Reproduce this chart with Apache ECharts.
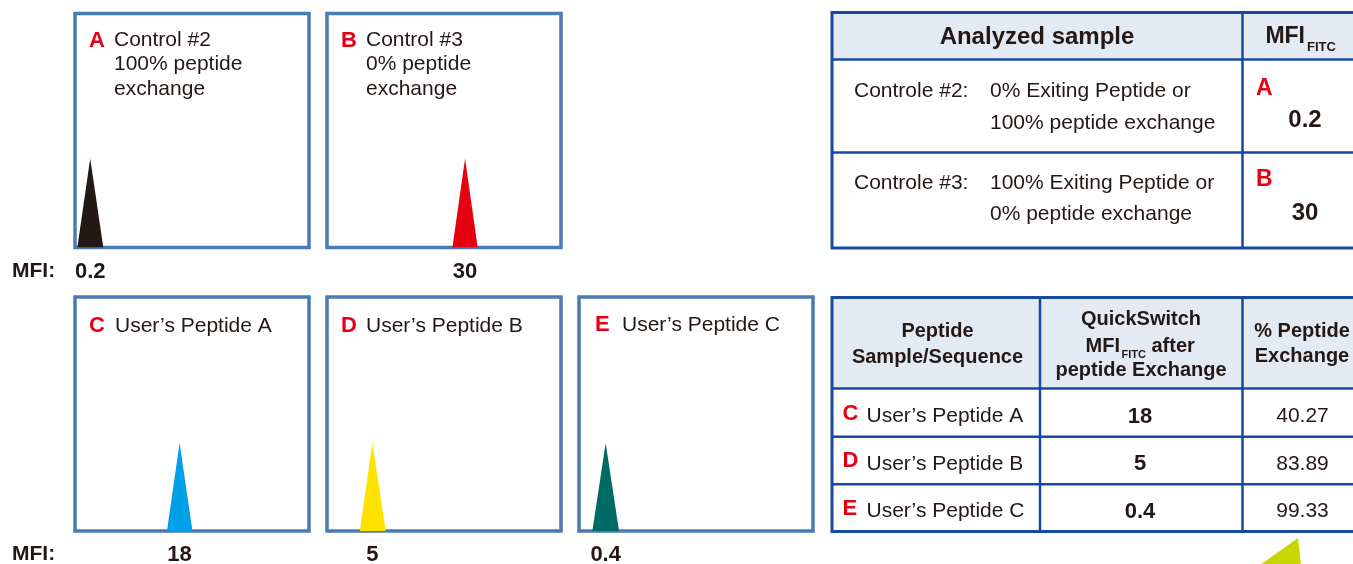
<!DOCTYPE html>
<html>
<head>
<meta charset="utf-8">
<title>QuickSwitch peptide exchange</title>
<script src="https://cdn.jsdelivr.net/npm/echarts@6.0.0/dist/echarts.min.js"></script>
<style>
html, body { margin: 0; padding: 0; background: #fff; }
#main { width: 1353px; height: 564px; }
</style>
</head>
<body>
<div id="main"></div>
<script>
// histogram panels A-E
var panelKeys = ['A', 'B', 'C', 'D', 'E'];
var panelLines = [
	['Control #2', '100% peptide', 'exchange'],
	['Control #3', '0% peptide', 'exchange'],
	['User\u2019s Peptide A'],
	['User\u2019s Peptide B'],
	['User\u2019s Peptide C']
];
var mfiLabels = ['0.2', '30', '18', '5', '0.4'];
// peak shape, in % of panel width / height
var peakLeft = [1.0, 53.6, 39.3, 14.0, 5.7];
var peakCenter = [6.5, 59.0, 44.7, 19.4, 11.4];
var peakRight = [12.1, 64.4, 50.2, 25.1, 17.1];
var peakHeight = [38, 38, 37.6, 37.6, 37.6];

// tables
var controlHeader = ['Analyzed sample', 'MFI', 'FITC'];
var controlRows = [
	['Controle #2:', '0% Exiting Peptide or', '100% peptide exchange', 'A', '0.2'],
	['Controle #3:', '100% Exiting Peptide or', '0% peptide exchange', 'B', '30']
];
var peptideHeader = [
	['Peptide', 'Sample/Sequence'],
	['QuickSwitch', 'MFI', 'FITC', 'after', 'peptide Exchange'],
	['% Peptide', 'Exchange']
];
var peptideRows = [
	['C', 'User\u2019s Peptide A', '18', '40.27'],
	['D', 'User\u2019s Peptide B', '5', '83.89'],
	['E', 'User\u2019s Peptide C', '0.4', '99.33']
];

// layout / style
var FONT = '"Liberation Sans", Arial, Helvetica, sans-serif';
var INK = '#231815';
var RED = '#e60012';
var PANEL_BORDER = '#4a7bb5';
var TABLE_LINE = '#17499d';
var HEAD_BG = '#e3eaf4';
var TEXT_DY = 2; // canvas 'middle' sits a bit high
var peakColors = ['#231815', '#e60012', '#00a0e9', '#ffe100', '#006b64'];
var gridLeft = [75, 327, 75, 327, 579];
var gridTop = [13.5, 13.5, 297, 297, 297];
var gridSize = 234;
var keyDx = [14, 14, 14, 14, 16];
var textDx = [39, 39, 40, 39, 43];
var textY = [38.5, 38.5, 324, 324, 323];

function txt(x, y, s, size, opt) {
	opt = opt || {};
	return {
		type: 'text',
		x: x,
		y: y + TEXT_DY,
		silent: true,
		style: {
			text: s,
			font: (opt.bold ? 'bold ' : '') + size + 'px ' + FONT,
			fill: opt.color || INK,
			textAlign: opt.align || 'left',
			textVerticalAlign: 'middle'
		}
	};
}

function rect(x, y, w, h, style) {
	return { type: 'rect', silent: true, shape: { x: x, y: y, width: w, height: h }, style: style };
}

function line(x1, y1, x2, y2, w) {
	return {
		type: 'line', silent: true,
		shape: { x1: x1, y1: y1, x2: x2, y2: y2 },
		style: { stroke: TABLE_LINE, lineWidth: w }
	};
}

var grids = [], xAxes = [], yAxes = [], series = [], graphics = [];

panelKeys.forEach(function(k, i) {
	grids.push({
		show: true,
		left: gridLeft[i],
		top: gridTop[i],
		width: gridSize,
		height: gridSize,
		outerBoundsMode: 'none',
		borderColor: PANEL_BORDER,
		borderWidth: 3.5,
		backgroundColor: 'transparent'
	});
	xAxes.push({
		gridIndex: i,
		type: 'value',
		min: 0,
		max: 100,
		axisLine: { show: false },
		axisTick: { show: false },
		splitLine: { show: false },
		axisLabel: {
			customValues: [peakCenter[i]],
			formatter: function() { return mfiLabels[i]; },
			margin: 13,
			fontSize: 22,
			fontWeight: 'bold',
			fontFamily: FONT,
			color: INK
		}
	});
	yAxes.push({ gridIndex: i, type: 'value', min: 0, max: 100, show: false });
	series.push({
		type: 'line',
		xAxisIndex: i,
		yAxisIndex: i,
		symbol: 'none',
		smooth: false,
		z: 3,
		lineStyle: { width: 0 },
		itemStyle: { color: peakColors[i] },
		areaStyle: { color: peakColors[i], opacity: 1 },
		data: [[peakLeft[i], 0], [peakCenter[i], peakHeight[i]], [peakRight[i], 0]]
	});

	// panel caption
	graphics.push(txt(gridLeft[i] + keyDx[i], textY[i], k, 22, { bold: true, color: RED }));
	panelLines[i].forEach(function(s, j) {
		graphics.push(txt(gridLeft[i] + textDx[i], textY[i] + j * 24.2, s, 21));
	});
});

// MFI: row labels
graphics.push(txt(12, 269.5, 'MFI:', 21, { bold: true }));
graphics.push(txt(12, 552, 'MFI:', 21, { bold: true }));

// table 1: controls
var t1 = { x: 832, y: 12.5, r: 1362, b: 248, head: 59.5, mid: 152.5, col: 1242.5 };
graphics.push(rect(t1.x, t1.y, t1.r - t1.x, t1.head - t1.y, { fill: HEAD_BG }));
graphics.push(line(t1.x, t1.head, t1.r, t1.head, 2.5));
graphics.push(line(t1.x, t1.mid, t1.r, t1.mid, 2.5));
graphics.push(line(t1.col, t1.y, t1.col, t1.b, 2.5));
graphics.push(rect(t1.x, t1.y, t1.r - t1.x, t1.b - t1.y, { fill: 'none', stroke: TABLE_LINE, lineWidth: 3 }));
graphics.push(txt(1037, 35, controlHeader[0], 24, { bold: true, align: 'center' }));
graphics.push(txt(1305, 35, controlHeader[1], 23, { bold: true, align: 'right' }));
graphics.push(txt(1307, 45, controlHeader[2], 13, { bold: true }));
var rowY1 = [[89, 121], [181, 212.5]];
var keyY1 = [[87, 118.3], [177.5, 211.7]];
controlRows.forEach(function(r, i) {
	graphics.push(txt(854, rowY1[i][0], r[0], 21));
	graphics.push(txt(990, rowY1[i][0], r[1], 21));
	graphics.push(txt(990, rowY1[i][1], r[2], 21));
	graphics.push(txt(1256, keyY1[i][0], r[3], 23, { bold: true, color: RED }));
	graphics.push(txt(1305, keyY1[i][1], r[4], 24, { bold: true, align: 'center' }));
});

// table 2: user peptides
var t2 = { x: 832, y: 297.5, r: 1362, b: 531.5, head: 388.5, c1: 1040, c2: 1242.5 };
var rowLines = [436.7, 484.3];
graphics.push(rect(t2.x, t2.y, t2.r - t2.x, t2.head - t2.y, { fill: HEAD_BG }));
graphics.push(line(t2.x, t2.head, t2.r, t2.head, 2.5));
rowLines.forEach(function(y) { graphics.push(line(t2.x, y, t2.r, y, 2.5)); });
graphics.push(line(t2.c1, t2.y, t2.c1, t2.b, 2.5));
graphics.push(line(t2.c2, t2.y, t2.c2, t2.b, 2.5));
graphics.push(rect(t2.x, t2.y, t2.r - t2.x, t2.b - t2.y, { fill: 'none', stroke: TABLE_LINE, lineWidth: 3 }));

graphics.push(txt(937.5, 329.5, peptideHeader[0][0], 20, { bold: true, align: 'center' }));
graphics.push(txt(937.5, 355.5, peptideHeader[0][1], 20, { bold: true, align: 'center' }));
graphics.push(txt(1141, 317.5, peptideHeader[1][0], 20, { bold: true, align: 'center' }));
graphics.push(txt(1120, 344, peptideHeader[1][1], 20, { bold: true, align: 'right' }));
graphics.push(txt(1121.5, 353, peptideHeader[1][2], 11, { bold: true }));
graphics.push(txt(1151.5, 344, peptideHeader[1][3], 20, { bold: true }));
graphics.push(txt(1141, 368.5, peptideHeader[1][4], 20, { bold: true, align: 'center' }));
graphics.push(txt(1302, 329, peptideHeader[2][0], 20, { bold: true, align: 'center' }));
graphics.push(txt(1302, 354, peptideHeader[2][1], 20, { bold: true, align: 'center' }));

var rowY2 = [414.5, 462, 509.7];
peptideRows.forEach(function(r, i) {
	graphics.push(txt(842.5, rowY2[i] - 3, r[0], 22, { bold: true, color: RED }));
	graphics.push(txt(866.5, rowY2[i], r[1], 21));
	graphics.push(txt(1140, rowY2[i], r[2], 22, { bold: true, align: 'center' }));
	graphics.push(txt(1302.5, rowY2[i], r[3], 21, { align: 'center' }));
});

// arrow tip peeking in at the bottom right
graphics.push({
	type: 'polygon', silent: true,
	shape: { points: [[1298, 538], [1260, 565], [1301, 565]] },
	style: { fill: '#c9d400' }
});

var myChart = echarts.init(document.getElementById('main'), null, { renderer: 'canvas' });
myChart.setOption({
	animation: false,
	backgroundColor: '#ffffff',
	grid: grids,
	xAxis: xAxes,
	yAxis: yAxes,
	series: series,
	graphic: graphics
});
</script>
</body>
</html>
